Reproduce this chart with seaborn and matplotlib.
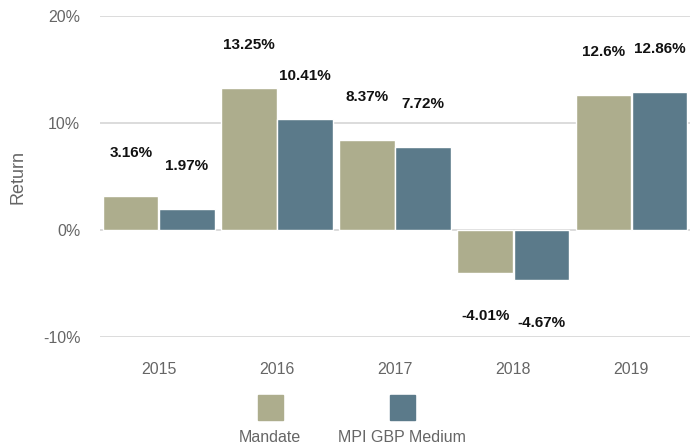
import pandas as pd
import matplotlib.pyplot as plt
import seaborn as sns
from matplotlib.patches import Rectangle
from matplotlib.ticker import FuncFormatter

# Datos del gráfico
years = ['2015', '2016', '2017', '2018', '2019']
series = ['Mandate', 'MPI GBP Medium']
mandate = [3.16, 13.25, 8.37, -4.01, 12.6]
mpi_gbp = [1.97, 10.41, 7.72, -4.67, 12.86]
colores = ['#adad8d', '#5b7a8a']

df = pd.DataFrame({
    'year': years * 2,
    'serie': [series[0]] * len(years) + [series[1]] * len(years),
    'ret': mandate + mpi_gbp,
})

sns.set_style('white')
plt.rcParams['font.family'] = ['Liberation Sans', 'DejaVu Sans']

fig = plt.figure(figsize=(6.98, 4.48), dpi=100)
ax = fig.add_axes([0.143, 0.248, 0.846, 0.716])

sns.barplot(data=df, x='year', y='ret', hue='serie', order=years, hue_order=series,
            palette=colores, width=0.95, gap=0.015, saturation=1, legend=False, ax=ax)

for cont, vals in zip(ax.containers, [mandate, mpi_gbp]):
    ax.bar_label(cont, labels=[f'{v}%' for v in vals], padding=26,
                 fontsize=11, fontweight='bold', color='#111111')

ax.set_ylim(-10, 20)
ax.set_yticks([-10, 0, 10, 20])
ax.yaxis.set_major_formatter(FuncFormatter(lambda v, p: f'{v:.0f}%'))
ax.grid(axis='y', color='#d6d6d6', linewidth=1.2)
ax.set_axisbelow(True)
for s in ax.spines.values():
    s.set_visible(False)
ax.tick_params(axis='both', length=0, labelsize=11.5, labelcolor='#666666')
ax.tick_params(axis='y', pad=14)
ax.tick_params(axis='x', pad=18)
ax.set_xlabel('')
ax.set_ylabel('Return', fontsize=13, color='#666666', labelpad=12)

# Leyenda: cuadro arriba, texto abajo
W, H = 698, 448
for i, (nombre, c) in enumerate(zip(series, colores)):
    cx = [270, 402][i]
    fig.add_artist(Rectangle(((cx - 12.5) / W, 1 - 420 / H), 25 / W, 25 / H,
                             transform=fig.transFigure, color=c))
    fig.text(cx / W, 1 - 437 / H, nombre, ha='center', va='center',
             fontsize=11.5, color='#666666')

fig.savefig('out.png', dpi=100)
